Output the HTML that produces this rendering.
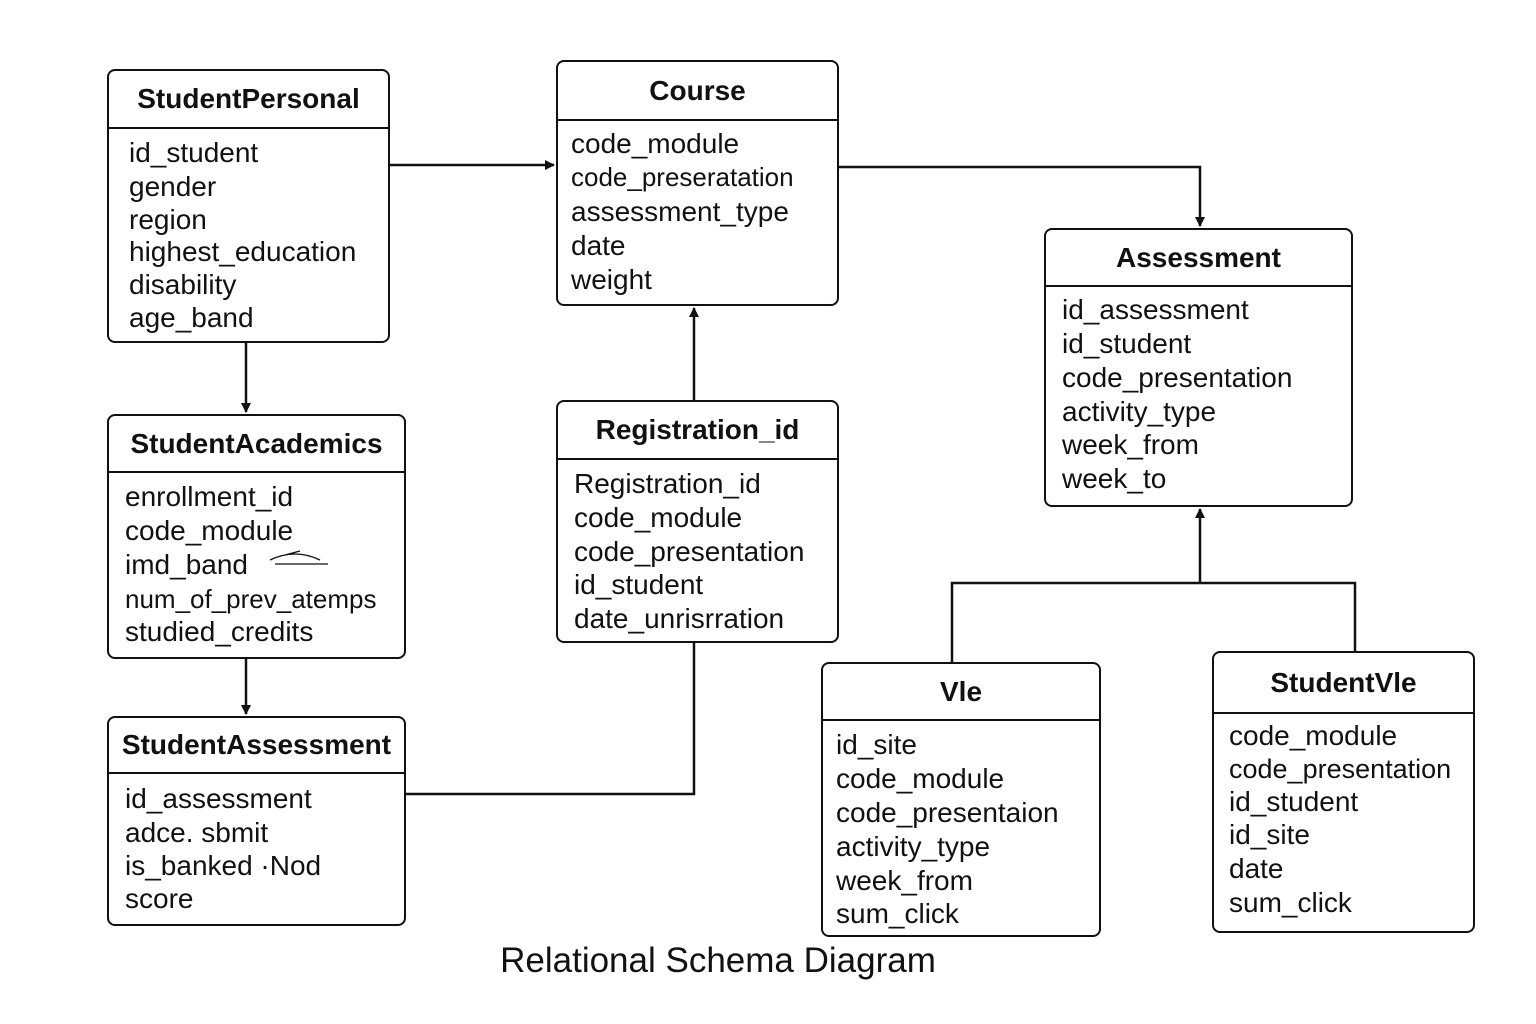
<!DOCTYPE html>
<html><head><meta charset="utf-8"><style>
body{margin:0;width:1536px;height:1024px;background:#fff;position:relative;overflow:hidden;font-family:"Liberation Sans","DejaVu Sans",sans-serif;color:#111}
.box{position:absolute;border:2.5px solid #111;border-radius:8px;box-sizing:border-box;background:#fff}
.hd{position:absolute;left:0;right:0;top:0;border-bottom:2px solid #111;font-weight:bold;font-size:28px;text-align:center;display:flex;align-items:center;justify-content:center}
.a{position:absolute;font-size:28px;white-space:nowrap;line-height:1}
.cap{position:absolute;left:0;width:1436px;text-align:center;top:941px;font-size:35px}
</style></head><body>
<svg width="1536" height="1024" style="position:absolute;left:0;top:0">
<defs><marker id="ar" markerWidth="10" markerHeight="10" refX="9" refY="5" orient="auto" markerUnits="userSpaceOnUse"><path d="M0,0 L10,5 L0,10 z" fill="#111"/></marker></defs>
<g stroke="#111" stroke-width="2.5" fill="none">
<path d="M390,165 H554" marker-end="url(#ar)"/>
<path d="M839,167 H1200 V226" marker-end="url(#ar)"/>
<path d="M246,343 V412" marker-end="url(#ar)"/>
<path d="M246,659 V714" marker-end="url(#ar)"/>
<path d="M406,794 H694 V643"/>
<path d="M694,400 V308" marker-end="url(#ar)"/>
<path d="M952,662 V583 H1355 V651"/>
<path d="M1200,583 V509" marker-end="url(#ar)"/>
</g></svg>

<div class="box" style="left:107px;top:69px;width:283px;height:274px"><div class="hd" style="height:56px">StudentPersonal</div></div>
<div class="a" style="left:129px;top:139px">id_student</div>
<div class="a" style="left:129px;top:173px">gender</div>
<div class="a" style="left:129px;top:206px">region</div>
<div class="a" style="left:129px;top:238px">highest_education</div>
<div class="a" style="left:129px;top:271px">disability</div>
<div class="a" style="left:129px;top:304px">age_band</div>

<div class="box" style="left:556px;top:60px;width:283px;height:246px"><div class="hd" style="height:57px">Course</div></div>
<div class="a" style="left:571px;top:130px">code_module</div>
<div class="a" style="left:571px;top:164px;font-size:26px">code_preseratation</div>
<div class="a" style="left:571px;top:198px">assessment_type</div>
<div class="a" style="left:571px;top:232px">date</div>
<div class="a" style="left:571px;top:266px">weight</div>

<div class="box" style="left:1044px;top:228px;width:309px;height:279px"><div class="hd" style="height:55px">Assessment</div></div>
<div class="a" style="left:1062px;top:296px">id_assessment</div>
<div class="a" style="left:1062px;top:330px">id_student</div>
<div class="a" style="left:1062px;top:364px">code_presentation</div>
<div class="a" style="left:1062px;top:398px">activity_type</div>
<div class="a" style="left:1062px;top:431px">week_from</div>
<div class="a" style="left:1062px;top:465px">week_to</div>

<div class="box" style="left:107px;top:414px;width:299px;height:245px"><div class="hd" style="height:55px">StudentAcademics</div></div>
<div class="a" style="left:125px;top:483px">enrollment_id</div>
<div class="a" style="left:125px;top:517px">code_module</div>
<div class="a" style="left:125px;top:551px">imd_band</div>
<div class="a" style="left:125px;top:586px;font-size:26px">num_of_prev_atemps</div>
<div class="a" style="left:125px;top:618px">studied_credits</div>

<div class="box" style="left:556px;top:400px;width:283px;height:243px"><div class="hd" style="height:56px">Registration_id</div></div>
<div class="a" style="left:574px;top:470px">Registration_id</div>
<div class="a" style="left:574px;top:504px">code_module</div>
<div class="a" style="left:574px;top:538px">code_presentation</div>
<div class="a" style="left:574px;top:571px">id_student</div>
<div class="a" style="left:574px;top:605px">date_unrisrration</div>

<div class="box" style="left:107px;top:716px;width:299px;height:210px"><div class="hd" style="height:54px">StudentAssessment</div></div>
<div class="a" style="left:125px;top:785px">id_assessment</div>
<div class="a" style="left:125px;top:819px">adce. sbmit</div>
<div class="a" style="left:125px;top:852px">is_banked ·Nod</div>
<div class="a" style="left:125px;top:885px">score</div>

<div class="box" style="left:821px;top:662px;width:280px;height:275px"><div class="hd" style="height:55px">Vle</div></div>
<div class="a" style="left:836px;top:731px">id_site</div>
<div class="a" style="left:836px;top:765px">code_module</div>
<div class="a" style="left:836px;top:799px">code_presentaion</div>
<div class="a" style="left:836px;top:833px">activity_type</div>
<div class="a" style="left:836px;top:867px">week_from</div>
<div class="a" style="left:836px;top:900px">sum_click</div>

<div class="box" style="left:1212px;top:651px;width:263px;height:282px"><div class="hd" style="height:59px">StudentVle</div></div>
<div class="a" style="left:1229px;top:722px">code_module</div>
<div class="a" style="left:1229px;top:756px;font-size:27px">code_presentation</div>
<div class="a" style="left:1229px;top:788px">id_student</div>
<div class="a" style="left:1229px;top:821px">id_site</div>
<div class="a" style="left:1229px;top:855px">date</div>
<div class="a" style="left:1229px;top:889px">sum_click</div>

<svg width="1536" height="1024" style="position:absolute;left:0;top:0">
<g stroke="#111" fill="none" stroke-width="1.3">
<path d="M270,560 Q295,548 320,560 M275,564 H328 M285,555 L300,551"/>
</g></svg>

<div class="cap">Relational Schema Diagram</div>
</body></html>
